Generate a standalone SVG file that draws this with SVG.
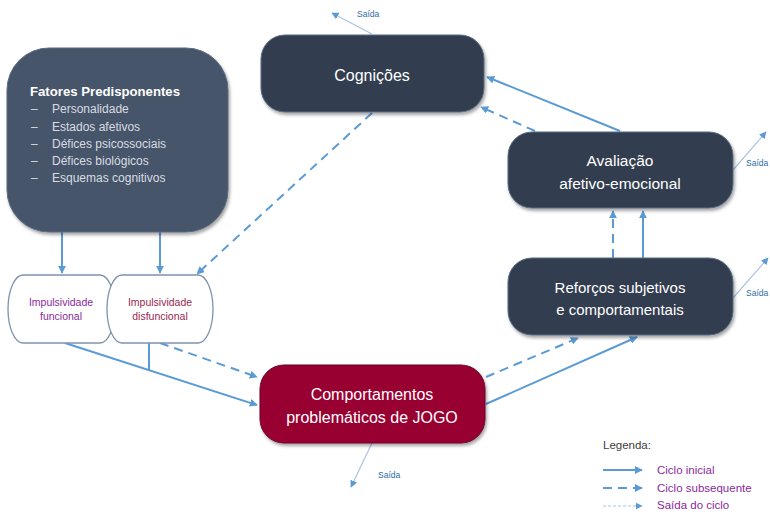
<svg xmlns="http://www.w3.org/2000/svg" width="770" height="514" viewBox="0 0 770 514">
<style>
.box{stroke:#5a6b82;stroke-width:1}
.slate{fill:#46546b}
.dark{fill:#323e50}
.red{fill:#990033;stroke:#6a0a2a}
.t{font-family:"Liberation Sans",Arial,sans-serif;fill:#ffffff;text-anchor:middle}
.lst{font-family:"Liberation Sans",Arial,sans-serif;fill:#d8dce2;font-size:12px}
.imp{fill:#ffffff;stroke:#7f93ad;stroke-width:1.3}
.it{font-family:"Liberation Sans",Arial,sans-serif;font-size:10.5px;text-anchor:middle}
.c{fill:none;stroke:#5b9bd5;stroke-width:2}
.d{stroke-dasharray:9 6}
.s{fill:none;stroke:#a9c4e4;stroke-width:1.2}
.sl{font-family:"Liberation Sans",Arial,sans-serif;font-size:8.5px;fill:#2e6da4}
.lg{font-family:"Liberation Sans",Arial,sans-serif;font-size:11.5px;fill:#8a2a9a}
</style>
<defs>
<marker id="a" viewBox="0 0 10 10" refX="9" refY="5" markerWidth="4" markerHeight="4" orient="auto" markerUnits="strokeWidth"><path d="M0 0L10 5L0 10z" fill="#5b9bd5"/></marker>
<marker id="as" viewBox="0 0 10 10" refX="9" refY="5" markerWidth="6" markerHeight="6" orient="auto" markerUnits="strokeWidth"><path d="M0 0L10 5L0 10z" fill="#5b9bd5"/></marker>
<filter id="sh" x="-10%" y="-10%" width="125%" height="130%"><feDropShadow dx="1.5" dy="2.5" stdDeviation="1.8" flood-color="#000" flood-opacity="0.35"/></filter>
</defs>

<g id="connectors">
<path class="c" d="M62 232V273" marker-end="url(#a)"/>
<path class="c" d="M160 232V273" marker-end="url(#a)"/>
<path class="c d" d="M372 113L197 274" marker-end="url(#a)"/>
<path class="c" d="M65 343L257 405" marker-end="url(#a)"/>
<path class="c" d="M149 343V370"/>
<path class="c d" d="M160 343L257 377" marker-end="url(#a)"/>
<path class="c d" d="M486 377L578 338" marker-end="url(#a)"/>
<path class="c" d="M486 404L637 337" marker-end="url(#a)"/>
<path class="c d" d="M613 258V211" marker-end="url(#a)"/>
<path class="c" d="M643 258V211" marker-end="url(#a)"/>
<path class="c" d="M620 131L487 77" marker-end="url(#a)"/>
<path class="c d" d="M535 131L481 107" marker-end="url(#a)"/>
<path class="s" d="M372 34L332 13" marker-end="url(#as)"/>
<path class="s" d="M733 170L766 132" marker-end="url(#as)"/>
<path class="s" d="M733 298L768 258" marker-end="url(#as)"/>
<path class="s" d="M372 443L351 487" marker-end="url(#as)"/>
</g>

<g id="fatores">
<rect class="box slate" x="7" y="48" width="221" height="184" rx="42" filter="url(#sh)"/>
<text x="30" y="96" font-family="Liberation Sans,Arial,sans-serif" font-size="13.5" fill="#ffffff" font-weight="bold" textLength="150" lengthAdjust="spacingAndGlyphs">Fatores Predisponentes</text>
<g class="lst">
<text x="31" y="113">–</text><text x="52" y="113">Personalidade</text>
<text x="31" y="131">–</text><text x="52" y="131">Estados afetivos</text>
<text x="31" y="148">–</text><text x="52" y="148">Défices psicossociais</text>
<text x="31" y="165">–</text><text x="52" y="165">Défices biológicos</text>
<text x="31" y="182">–</text><text x="52" y="182">Esquemas cognitivos</text>
</g>
</g>

<g id="cognicoes">
<rect class="box dark" x="261" y="35" width="223" height="77" rx="24" filter="url(#sh)"/>
<text class="t" x="372" y="81" font-size="16">Cognições</text>
</g>

<g id="avaliacao">
<rect class="box dark" x="508" y="132" width="225" height="76" rx="24" filter="url(#sh)"/>
<text class="t" x="620" y="166" font-size="15.5">Avaliação</text>
<text class="t" x="620" y="189" font-size="15.5">afetivo-emocional</text>
</g>

<g id="reforcos">
<rect class="box dark" x="508" y="258" width="225" height="77" rx="24" filter="url(#sh)"/>
<text class="t" x="620" y="293" font-size="15">Reforços subjetivos</text>
<text class="t" x="620" y="315" font-size="15">e comportamentais</text>
</g>

<g id="comportamentos">
<rect class="box red" x="260" y="365" width="225" height="78" rx="24" filter="url(#sh)"/>
<text class="t" x="372" y="400" font-size="16">Comportamentos</text>
<text class="t" x="372" y="423" font-size="16">problemáticos de JOGO</text>
</g>

<g id="imp-funcional">
<path class="imp" d="M23 275H100A15 34 0 0 1 100 343H23A15 34 0 0 1 23 275Z"/>
<text class="it" x="61" y="306" fill="#8a2a9a">Impulsividade</text>
<text class="it" x="61" y="320" fill="#8a2a9a">funcional</text>
</g>

<g id="imp-disfuncional">
<path class="imp" d="M122 275H198A15 34 0 0 1 198 343H122A15 34 0 0 1 122 275Z"/>
<text class="it" x="160" y="306" fill="#9a1f4f">Impulsividade</text>
<text class="it" x="160" y="320" fill="#9a1f4f">disfuncional</text>
</g>

<g id="saida-labels">
<text class="sl" x="357" y="17">Saída</text>
<text class="sl" x="746" y="166">Saída</text>
<text class="sl" x="746" y="296">Saída</text>
<text class="sl" x="378" y="478">Saída</text>
</g>

<g id="legenda">
<text x="603" y="449" font-family="Liberation Sans,Arial,sans-serif" font-size="11.5" fill="#404040">Legenda:</text>
<path class="c" d="M603 470H642" marker-end="url(#a)"/>
<path class="c d" d="M603 488H642" marker-end="url(#a)"/>
<path class="s" d="M603 506H642" stroke-dasharray="3 2" marker-end="url(#as)"/>
<text class="lg" x="657" y="474">Ciclo inicial</text>
<text class="lg" x="657" y="492">Ciclo subsequente</text>
<text class="lg" x="657" y="509">Saída do ciclo</text>
</g>
</svg>
